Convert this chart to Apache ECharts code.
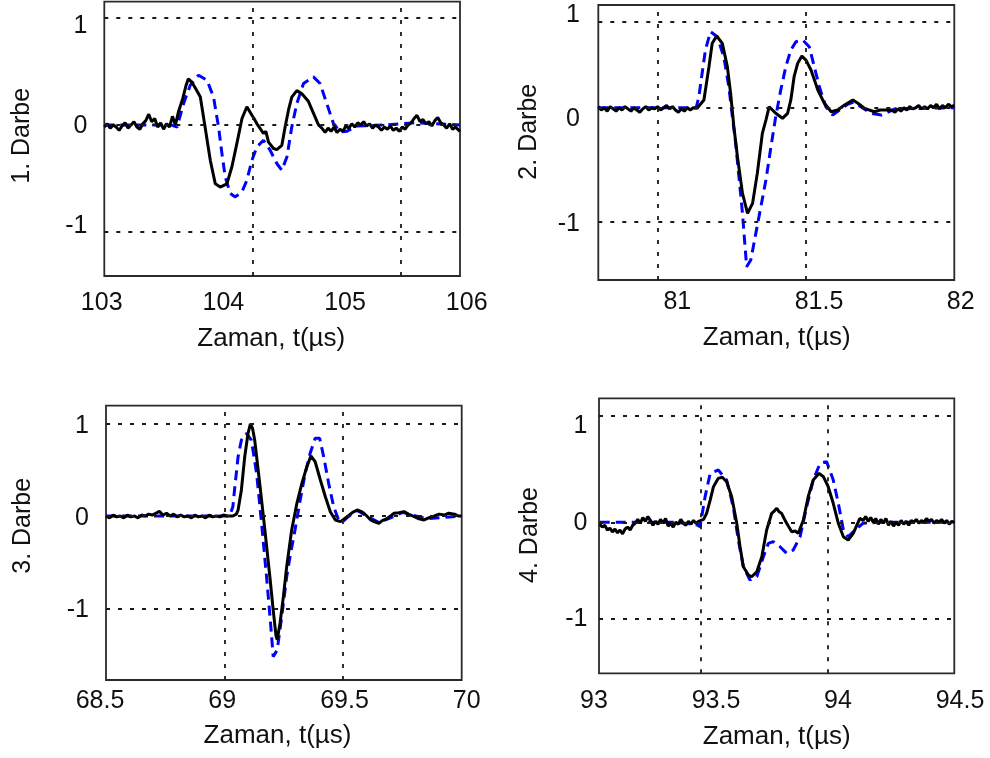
<!DOCTYPE html>
<html><head><meta charset="utf-8">
<script src="https://cdn.jsdelivr.net/npm/echarts@6/dist/echarts.min.js"></script>
<style>html,body{margin:0;padding:0;background:#fff}#c{width:990px;height:758px}</style>
</head><body><div id="c"></div><script>
// ---- tick labels ----
const xTicks1 = [103, 104, 105, 106];
const xTicks2 = [81, 81.5, 82];
const xTicks3 = [68.5, 69, 69.5, 70];
const xTicks4 = [93, 93.5, 94, 94.5];
const yTicks = [-1, 0, 1];
// ---- grid-line values (data coordinates) ----
const gridX1 = [104, 105], gridY1 = [1, 0, -1];
const gridX2 = [81, 81.5], gridY2 = [0.75, 0, -1];
const gridX3 = [69, 69.5], gridY3 = [1, 0, -1];
const gridX4 = [93.5, 94], gridY4 = [1.11, 0, -1];
// ---- texts ----
const xTitle = 'Zaman, t(µs)';
const yTitles = ['1. Darbe', '2. Darbe', '3. Darbe', '4. Darbe'];

// ---- series values [t, amplitude] ----
const black1 = [[103.00,-0.02],[103.02,0.01],[103.04,-0.03],[103.06,0.00],[103.08,-0.02],[103.10,-0.05],[103.12,-0.01],[103.14,0.02],[103.16,-0.03],[103.18,0.00],[103.20,0.03],[103.22,-0.02],[103.24,-0.04],[103.26,0.01],[103.28,0.04],[103.30,0.10],[103.32,0.03],[103.34,0.06],[103.36,-0.02],[103.38,0.02],[103.40,-0.04],[103.42,0.01],[103.44,-0.02],[103.46,0.08],[103.48,0.00],
[103.50,0.12],[103.53,0.25],[103.55,0.36],[103.567,0.43],[103.59,0.40],[103.62,0.33],[103.648,0.26],[103.68,-0.02],[103.715,-0.33],[103.749,-0.55],[103.782,-0.58],[103.827,-0.55],[103.861,-0.39],[103.895,-0.17],[103.929,0.06],[103.962,0.17],[103.996,0.09],[104.01,0.06],[104.03,0.01],[104.05,-0.03],[104.074,-0.08],[104.09,-0.06],[104.108,-0.16],[104.142,-0.22],[104.164,-0.23],[104.198,-0.19],[104.22,-0.02],[104.243,0.14],[104.265,0.26],[104.299,0.32],[104.333,0.29],[104.377,0.22],[104.411,0.11],[104.445,0.00],[104.468,-0.03],
[104.49,-0.07],[104.51,-0.03],[104.53,-0.06],[104.55,-0.02],[104.57,-0.07],[104.59,-0.04],[104.61,-0.06],[104.63,-0.01],[104.65,-0.03],[104.67,0.01],[104.69,-0.02],[104.71,0.02],[104.73,0.00],[104.75,0.03],[104.77,-0.01],[104.79,0.01],[104.81,-0.03],[104.83,0.00],[104.85,-0.02],[104.87,-0.05],[104.89,-0.02],[104.91,-0.04],[104.93,-0.01],[104.95,-0.05],[104.97,-0.03],[104.99,-0.06],[105.01,-0.02],[105.03,-0.04],[105.05,0.00],[105.07,0.02],[105.09,0.06],[105.11,0.09],[105.13,0.03],[105.15,0.05],[105.17,0.01],[105.19,0.03],[105.21,-0.01],[105.23,0.04],[105.25,0.07],[105.27,0.02],[105.29,0.00],[105.31,-0.03],[105.33,0.01],[105.35,-0.04],[105.37,-0.02],[105.40,-0.06]];
const blue1 = [[103.0,0],[103.3,0],[103.45,0],[103.491,-0.02],[103.535,0.20],[103.58,0.37],[103.636,0.464],[103.693,0.417],[103.737,0.26],[103.771,-0.02],[103.794,-0.27],[103.816,-0.485],[103.85,-0.64],[103.884,-0.672],[103.929,-0.625],[103.962,-0.516],[103.996,-0.33],[104.03,-0.205],[104.074,-0.143],[104.119,-0.236],[104.164,-0.36],[104.198,-0.423],[104.232,-0.30],[104.265,-0.02],[104.299,0.20],[104.344,0.386],[104.411,0.448],[104.456,0.386],[104.501,0.20],[104.546,0.013],[104.591,-0.065],[104.636,-0.06],[104.7,-0.01],[104.9,0],[105.1,0.02],[105.4,0]];

const black2 = [[80.80,0.01],[80.81,-0.02],[80.82,0.00],[80.83,-0.03],[80.84,0.01],[80.85,-0.01],[80.86,-0.03],[80.87,0.00],[80.88,-0.02],[80.89,0.01],[80.90,-0.01],[80.91,-0.03],[80.92,0.00],[80.93,-0.02],[80.94,-0.04],[80.95,-0.01],[80.96,0.01],[80.97,-0.02],[80.98,0.00],[80.99,-0.01],[81.00,0.01],[81.01,-0.02],[81.02,0.00],[81.03,0.02],[81.04,-0.01],[81.05,0.01],[81.06,-0.02],[81.07,-0.04],[81.08,-0.01],[81.09,-0.03],[81.10,0.00],[81.11,-0.02],[81.12,0.00],[81.133,-0.005],
[81.156,0.068],[81.173,0.36],[81.184,0.565],[81.199,0.629],[81.218,0.565],[81.235,0.36],[81.246,0.126],[81.257,-0.167],[81.269,-0.43],[81.286,-0.751],[81.303,-0.926],[81.320,-0.839],[81.336,-0.575],[81.353,-0.225],[81.365,-0.108],[81.376,0.009],[81.382,0.024],[81.398,-0.049],[81.421,-0.093],[81.438,-0.049],[81.449,0.068],[81.460,0.272],[81.472,0.389],[81.486,0.454],[81.500,0.418],[81.517,0.331],[81.540,0.155],[81.562,0.039],[81.585,-0.035],[81.607,-0.02],[81.630,0.024],[81.658,0.068],[81.675,0.039],[81.697,-0.005],[81.731,-0.035],[81.75,-0.02],[81.788,-0.02],
[81.80,-0.04],[81.81,-0.01],[81.82,-0.03],[81.83,0.00],[81.84,-0.02],[81.85,0.01],[81.86,-0.01],[81.87,0.00],[81.88,0.02],[81.89,-0.01],[81.90,0.01],[81.91,-0.01],[81.92,0.02],[81.93,0.00],[81.94,0.03],[81.95,-0.01],[81.96,0.02],[81.97,0.00],[81.98,0.03],[81.99,0.01],[82.00,0.02]];
const blue2 = [[80.80,0],[81.0,0],[81.10,0],[81.13,0.0],[81.139,0.096],[81.150,0.302],[81.161,0.506],[81.178,0.667],[81.201,0.623],[81.223,0.447],[81.240,0.184],[81.252,-0.079],[81.263,-0.312],[81.274,-0.605],[81.286,-0.926],[81.293,-1.161],[81.300,-1.395],[81.314,-1.336],[81.331,-1.102],[81.348,-0.868],[81.365,-0.634],[81.382,-0.342],[81.398,-0.079],[81.415,0.155],[81.432,0.36],[81.449,0.506],[81.466,0.579],[81.489,0.594],[81.511,0.535],[81.528,0.36],[81.545,0.184],[81.567,0.009],[81.590,-0.064],[81.613,-0.02],[81.64,0.03],[81.66,0.05],[81.69,0.0],[81.72,-0.05],[81.754,-0.064],[81.80,-0.01],[82.0,0]];

const black3 = [[68.500,0.00],[68.515,-0.02],[68.530,0.01],[68.545,-0.01],[68.560,0.00],[68.575,-0.02],[68.590,0.01],[68.605,-0.01],[68.620,0.00],[68.635,-0.02],[68.650,0.01],[68.665,0.00],[68.680,0.02],[68.695,0.01],[68.710,0.03],[68.725,0.05],[68.740,0.01],[68.755,0.03],[68.770,0.00],[68.785,0.02],[68.800,-0.01],[68.815,0.01],[68.830,-0.01],[68.845,0.00],[68.860,-0.02],[68.875,0.01],[68.890,-0.01],[68.905,0.00],[68.920,-0.02],[68.935,0.01],[68.950,-0.01],[68.965,0.00],[68.980,-0.01],[68.995,0.01],[69.010,0.00],[69.035,0.00],
[69.050,0.02],[69.057,0.065],[69.071,0.282],[69.085,0.642],[69.099,0.896],[69.109,0.997],[69.118,0.95],[69.127,0.823],[69.149,0.336],[69.170,-0.152],[69.191,-0.658],[69.205,-1.018],[69.217,-1.30],[69.222,-1.34],[69.234,-1.16],[69.248,-0.874],[69.262,-0.549],[69.283,-0.152],[69.305,0.138],[69.326,0.354],[69.347,0.534],[69.364,0.65],[69.382,0.588],[69.404,0.39],[69.425,0.209],[69.446,0.047],[69.467,-0.043],[69.489,-0.061],
[69.517,-0.007],[69.54,0.04],[69.559,0.065],[69.575,0.05],[69.588,0.029],[69.60,0.0],[69.616,-0.043],[69.63,-0.06],[69.651,-0.079],[69.665,-0.05],[69.687,-0.025],[69.70,0.0],[69.715,0.029],[69.735,0.035],[69.757,0.047],[69.775,0.02],[69.800,-0.007],[69.82,-0.03],[69.842,-0.043],[69.86,-0.02],[69.885,0.0],[69.905,0.02],[69.927,0.01],[69.945,0.03],[69.970,0.02],[69.985,0.0],[70.0,0.0]];
const blue3 = [[68.5,0],[69.0,0],[69.021,0],[69.035,0.10],[69.042,0.282],[69.057,0.642],[69.071,0.823],[69.092,0.896],[69.113,0.823],[69.135,0.463],[69.156,-0.079],[69.177,-0.658],[69.194,-1.163],[69.205,-1.524],[69.222,-1.452],[69.241,-1.091],[69.262,-0.658],[69.276,-0.441],[69.297,-0.152],[69.319,0.173],[69.340,0.463],[69.361,0.680],[69.382,0.842],[69.401,0.842],[69.418,0.642],[69.439,0.354],[69.460,0.101],[69.481,-0.043],[69.50,-0.06],[69.52,-0.01],[69.56,0.06],[69.60,0.0],[69.65,-0.07],[69.70,-0.02],[69.75,0.04],[69.85,-0.03],[70.0,0]];

const black4 = [[93.10,-0.02],[93.11,-0.05],[93.12,-0.03],[93.13,-0.08],[93.14,-0.06],[93.15,-0.10],[93.16,-0.07],[93.17,-0.11],[93.18,-0.08],[93.19,-0.12],[93.20,-0.07],[93.21,-0.05],[93.22,-0.08],[93.23,-0.03],[93.24,-0.01],[93.25,0.03],[93.26,-0.01],[93.27,0.05],[93.28,0.01],[93.29,0.06],[93.30,0.02],[93.31,-0.03],[93.32,0.01],[93.33,-0.02],[93.34,0.03],[93.35,-0.01],[93.36,0.04],[93.37,-0.04],[93.38,-0.01],[93.39,-0.05],[93.40,0.00],[93.41,-0.02],[93.42,0.03],[93.43,-0.01],[93.44,-0.03],[93.45,0.01],[93.46,-0.02],[93.47,0.02],[93.48,-0.01],[93.49,0.01],[93.50,0.02],[93.51,0.03],
[93.522,0.094],[93.536,0.232],[93.549,0.371],[93.568,0.458],[93.584,0.469],[93.601,0.423],[93.621,0.267],[93.641,-0.01],[93.654,-0.254],[93.667,-0.463],[93.687,-0.549],[93.700,-0.567],[93.720,-0.515],[93.740,-0.358],[93.759,-0.08],[93.779,0.094],[93.790,0.12],[93.799,0.146],[93.808,0.11],[93.818,0.094],[93.828,0.04],[93.838,-0.01],[93.858,-0.098],[93.872,-0.09],[93.884,-0.115],[93.904,0.024],[93.923,0.267],[93.943,0.441],[93.966,0.51],[93.983,0.475],[94.002,0.371],[94.022,0.198],[94.042,-0.01],[94.062,-0.15],[94.081,-0.184],[94.101,-0.115],[94.127,0.042],
[94.14,0.02],[94.15,0.06],[94.16,0.01],[94.17,0.05],[94.18,0.00],[94.19,0.04],[94.20,-0.02],[94.21,0.03],[94.22,-0.01],[94.23,0.04],[94.24,-0.03],[94.25,0.01],[94.26,-0.04],[94.27,0.00],[94.28,-0.03],[94.29,0.02],[94.30,-0.02],[94.31,0.01],[94.32,-0.03],[94.33,0.02],[94.34,0.00],[94.35,0.03],[94.36,-0.01],[94.37,0.02],[94.38,0.00],[94.39,0.04],[94.40,0.01],[94.41,0.03],[94.42,-0.01],[94.43,0.02],[94.44,0.00],[94.45,0.03],[94.46,-0.01],[94.47,0.02],[94.48,-0.02],[94.49,0.01],[94.50,0.00]];
const blue4 = [[93.1,0],[93.4,0],[93.48,-0.02],[93.496,-0.046],[93.516,0.267],[93.536,0.51],[93.568,0.545],[93.601,0.441],[93.627,0.163],[93.647,-0.184],[93.667,-0.463],[93.693,-0.601],[93.720,-0.567],[93.746,-0.358],[93.766,-0.219],[93.785,-0.202],[93.812,-0.254],[93.838,-0.323],[93.864,-0.289],[93.891,-0.15],[93.917,0.163],[93.943,0.441],[93.970,0.615],[93.996,0.631],[94.022,0.441],[94.042,0.198],[94.062,-0.08],[94.081,-0.15],[94.108,-0.08],[94.140,-0.01],[94.2,0],[94.5,0]];

// ---- layout ----
const FONT = "'Liberation Sans', Arial, sans-serif";
const panels = [
  {black: black1, blue: blue1, xTicks: xTicks1, gx: gridX1, gy: gridY1, yName: yTitles[0],
   frame: {left: 104.3, top: 1.7, width: 355.7, height: 274.3}, xr: [103, 105.4], yr: [-1.41, 1.15],
   lab: {left: 101.7, top: 26, width: 365, height: 200, xm: 64.2, ym: 14.2},
   xt: [271.3, 339], yt: [21.7, 135.8]},
  {black: black2, blue: blue2, xTicks: xTicks2, gx: gridX2, gy: gridY2, yName: yTitles[1],
   frame: {left: 598.3, top: 5, width: 356, height: 275}, xr: [80.8, 82.0], yr: [-1.511, 0.901],
   lab: {left: 677.3, top: 15, width: 283.4, height: 209, xm: 65.9, ym: 97.3},
   xt: [776.7, 338], yt: [529.2, 131.7]},
  {black: black3, blue: blue3, xTicks: xTicks3, gx: gridX3, gy: gridY3, yName: yTitles[2],
   frame: {left: 106, top: 405.7, width: 355.7, height: 274.3}, xr: [68.5, 70], yr: [-1.777, 1.195],
   lab: {left: 100, top: 426.5, width: 366.7, height: 183.4, xm: 78.9, ym: 11},
   xt: [277.5, 736], yt: [23, 525.8]},
  {black: black4, blue: blue4, xTicks: xTicks4, gx: gridX4, gy: gridY4, yName: yTitles[3],
   frame: {left: 599, top: 398.3, width: 355.3, height: 275}, xr: [93.097, 94.5], yr: [-1.573, 1.292],
   lab: {left: 594, top: 426.5, width: 366, height: 192.5, xm: 69.8, ym: 6.5},
   xt: [776.7, 736.7], yt: [530.5, 535]}
];

const grid = [], xAxis = [], yAxis = [], series = [], graphic = [];
panels.forEach((p, i) => {
  const di = 2 * i, li = 2 * i + 1;
  grid.push(Object.assign({show: true, borderColor: '#2a2a2a', borderWidth: 1.8, backgroundColor: '#fff'}, p.frame));
  grid.push({left: p.lab.left, top: p.lab.top, width: p.lab.width, height: p.lab.height, show: false});
  xAxis.push({gridIndex: di, type: 'value', min: p.xr[0], max: p.xr[1], show: false});
  yAxis.push({gridIndex: di, type: 'value', min: p.yr[0], max: p.yr[1], show: false});
  const xt = p.xTicks;
  xAxis.push({gridIndex: li, type: 'value', min: xt[0], max: xt[xt.length - 1], interval: xt[1] - xt[0],
    axisLine: {show: false}, axisTick: {show: false}, splitLine: {show: false},
    axisLabel: {margin: p.lab.xm, fontSize: 25, color: '#111', fontFamily: FONT}});
  yAxis.push({gridIndex: li, type: 'value', min: yTicks[0], max: yTicks[yTicks.length - 1], interval: yTicks[1] - yTicks[0],
    axisLine: {show: false}, axisTick: {show: false}, splitLine: {show: false},
    axisLabel: {margin: p.lab.ym, fontSize: 25, color: '#111', fontFamily: FONT}});
  series.push({type: 'line', xAxisIndex: di, yAxisIndex: di, data: [], silent: true, z: 1,
    markLine: {silent: true, symbol: ['none', 'none'], label: {show: false}, emphasis: {disabled: true}, animation: false,
      lineStyle: {color: '#1a1a1a', width: 1.8, type: [4, 8]},
      data: p.gx.map(v => ({xAxis: v})).concat(p.gy.map(v => ({yAxis: v})))}});
  series.push({type: 'line', xAxisIndex: di, yAxisIndex: di, data: p.blue, showSymbol: false, silent: true, z: 2,
    lineStyle: {color: '#0000ff', width: 3, type: [10, 6]}});
  series.push({type: 'line', xAxisIndex: di, yAxisIndex: di, data: p.black, showSymbol: false, silent: true, z: 3,
    lineStyle: {color: '#000', width: 3}});
  graphic.push({type: 'text', x: p.xt[0], y: p.xt[1], silent: true,
    style: {text: xTitle, font: '26px ' + FONT, fill: '#111', align: 'center', verticalAlign: 'middle', textAlign: 'center', textVerticalAlign: 'middle'}});
  graphic.push({type: 'text', x: p.yt[0], y: p.yt[1], rotation: Math.PI / 2, silent: true,
    style: {text: p.yName, font: '25px ' + FONT, fill: '#111', align: 'center', verticalAlign: 'middle', textAlign: 'center', textVerticalAlign: 'middle'}});
});

const chart = echarts.init(document.getElementById('c'), null, {renderer: 'canvas'});
chart.setOption({backgroundColor: '#fff', animation: false, grid, xAxis, yAxis, series, graphic});
</script></body></html>
